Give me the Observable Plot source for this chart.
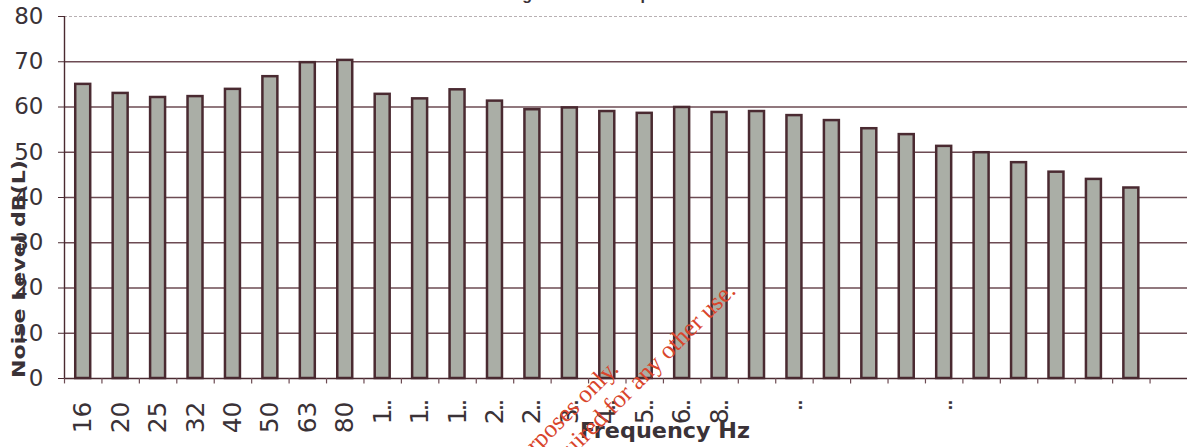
<!DOCTYPE html>
<html>
<head>
<meta charset="utf-8">
<script src="https://cdn.jsdelivr.net/npm/d3@7"></script>
<script src="https://cdn.jsdelivr.net/npm/@observablehq/plot@0.6"></script>
<style>
  html, body { margin: 0; padding: 0; background: #fff; overflow: hidden; }
  #wrap { position: relative; width: 1187px; height: 447px; }
  #wrap > svg { display: block; }
  #overlay { position: absolute; left: 0; top: 0; pointer-events: none; overflow: visible; }
</style>
</head>
<body>
<div id="wrap"></div>
<script>
// Third-octave band centre frequencies (Hz)
const bands = ["16", "20", "25", "31.5", "40", "50", "63", "80", "100", "125", "160", "200", "250", "315", "400",
  "500", "630", "800", "1000", "1250", "1600", "2000", "2500", "3150", "4000", "5000", "6300", "8000", "10000"];

// Tick labels as printed under each band (long labels are truncated by the chart)
const tickLabels = ["16", "20", "25", "32", "40", "50", "63", "80", "1..", "1..", "1..", "2..", "2..", "3..", "4..",
  "5..", "6..", "8..", "", "..", "", "", "", "..", "", "", "", "", ""];

// Noise level per band, dB(L)
const levels = [65.0, 63.0, 62.1, 62.3, 63.9, 66.7, 69.8, 70.3, 62.8, 61.8, 63.8, 61.3, 59.4, 59.8, 59.0,
  58.6, 59.9, 58.8, 59.0, 58.1, 57.0, 55.2, 53.9, 51.3, 49.9, 47.7, 45.6, 44.0, 42.1];

const yTicks = [0, 10, 20, 30, 40, 50, 60, 70, 80];

const data = bands.map((band, i) => ({band, level: levels[i], label: tickLabels[i]}));
const labelOf = new Map(data.map(d => [d.band, d.label]));

const W = 1187, H = 447;
const mL = 64, mR = 0, mT = 16, mB = 69;
// the category axis leaves room for one more (empty) band at the right edge
const step = (W - mL - mR) / (bands.length + 1);

const ink = "#3a3237";
const barLine = "#4a2a31";
const gridLine = "#6d4b53";

const chart = Plot.plot({
  width: W,
  height: H,
  marginLeft: mL,
  marginRight: mR,
  marginTop: mT,
  marginBottom: mB,
  style: {background: "transparent", fontFamily: "'DejaVu Sans', sans-serif", color: ink},
  x: {domain: bands, range: [mL, mL + bands.length * step], paddingInner: 0.6, paddingOuter: 0.3,
    round: false, axis: null},
  y: {domain: [0, 80], axis: null},
  marks: [
    // horizontal gridlines
    Plot.ruleY(yTicks.filter(d => d > 0 && d < 80), {stroke: gridLine, strokeWidth: 1.3}),
    Plot.ruleY([80], {stroke: "#b8b0b3", strokeWidth: 1.2, strokeDasharray: "3,2"}),
    // bars
    Plot.barY(data, {x: "band", y: "level", fill: "#aaaea6", stroke: barLine, strokeWidth: 2.5}),
    // value axis line and category baseline
    Plot.ruleX([bands[0]], {dx: -step / 2, y1: 0, y2: 80, stroke: barLine, strokeWidth: 1.4}),
    Plot.ruleY([0], {stroke: barLine, strokeWidth: 1.4}),
    // category tick marks between bands
    Plot.ruleX(bands, {dx: -step / 2, y1: 0, y2: -1.2, stroke: gridLine, strokeWidth: 1.2}),
    Plot.ruleX([bands[bands.length - 1]], {dx: step / 2, y1: 0, y2: -1.2, stroke: gridLine, strokeWidth: 1.2}),
    // axes
    Plot.axisY(yTicks, {label: null, tickSize: 6, tickPadding: 15, fontSize: 23, stroke: barLine, fill: ink}),
    Plot.axisX({label: null, tickRotate: -90, tickSize: 0, tickPadding: 23, fontSize: 25, fill: ink,
      tickFormat: d => labelOf.get(d)})
  ]
});
document.getElementById("wrap").appendChild(chart);

// truncated labels print their trailing dots tightly
d3.select(chart).selectAll('[aria-label="x-axis tick label"] text')
  .filter(function () { return this.textContent.endsWith(".."); })
  .style("letter-spacing", "-3px");

// titles and the red reproduction stamp, laid over the plot
const overlay = d3.select("#wrap").append("svg")
  .attr("id", "overlay").attr("width", W).attr("height", H);

// chart title, running off the top edge
overlay.append("text")
  .attr("x", 484).attr("y", -0.5)
  .attr("font-family", "'Liberation Sans', Arial, sans-serif")
  .attr("font-weight", "bold").attr("font-size", 16).attr("fill", ink)
  .text("Background Noise Spectrum");

// value axis title
overlay.append("text")
  .attr("transform", "translate(25,269) rotate(-90)")
  .attr("text-anchor", "middle")
  .attr("textLength", 218).attr("lengthAdjust", "spacingAndGlyphs")
  .attr("font-family", "'DejaVu Sans', sans-serif")
  .attr("font-weight", "bold").attr("font-size", 17).attr("fill", ink)
  .text("Noise Level dB(L)");

// category axis title
overlay.append("text")
  .attr("x", 665).attr("y", 438)
  .attr("text-anchor", "middle")
  .attr("textLength", 170).attr("lengthAdjust", "spacingAndGlyphs")
  .attr("font-family", "'DejaVu Sans', sans-serif")
  .attr("font-weight", "bold").attr("font-size", 21).attr("fill", ink)
  .text("Frequency Hz");

const stampLines = [
  {text: "For reference purposes only.", x: 620, y: 370},
  {text: "Permission required for any other use.", x: 737, y: 292}
];
overlay.selectAll("text.stamp").data(stampLines).join("text")
  .attr("class", "stamp")
  .attr("transform", d => `translate(${d.x},${d.y}) rotate(-45)`)
  .attr("text-anchor", "end")
  .attr("font-family", "'Liberation Serif', 'Times New Roman', serif")
  .attr("font-size", 25)
  .attr("fill", "#d9452c")
  .text(d => d.text);
</script>
</body>
</html>
